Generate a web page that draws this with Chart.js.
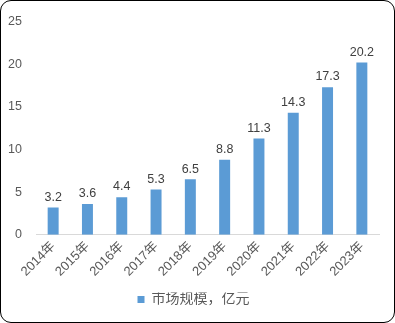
<!DOCTYPE html>
<html lang="zh">
  <head>
    <meta charset="UTF-8" />
    <title>市场规模</title>
    <script src="https://cdn.jsdelivr.net/npm/chart.js"></script>
    <style>
      body {
        margin: 0;
        background: #fff;
      }
      .frame {
        position: relative;
        width: 395px;
        height: 323px;
      }
      .frame::after {
        content: "";
        position: absolute;
        inset: 0;
        border: 1.5px solid #000;
        border-radius: 11px;
        pointer-events: none;
      }
    </style>
  </head>
  <body>
    <div class="frame">
      <canvas id="market-chart" width="395" height="323"></canvas>
    </div>

    <script>
      const years = ["2014年", "2015年", "2016年", "2017年", "2018年", "2019年", "2020年", "2021年", "2022年", "2023年"];
      const marketSize = [3.2, 3.6, 4.4, 5.3, 6.5, 8.8, 11.3, 14.3, 17.3, 20.2];
      const yTicks = [0, 5, 10, 15, 20, 25];

      const fontFamily = "'Liberation Sans', 'Noto Sans CJK SC', sans-serif";

      // value labels above each bar
      const barLabels = {
        id: "barLabels",
        afterDatasetsDraw(chart) {
          const ctx = chart.ctx;
          const meta = chart.getDatasetMeta(0);
          ctx.save();
          ctx.font = "12.5px " + fontFamily;
          ctx.fillStyle = "#404040";
          ctx.textAlign = "center";
          ctx.textBaseline = "bottom";
          meta.data.forEach((bar, i) => {
            ctx.fillText(marketSize[i].toFixed(1), bar.x, bar.y - 4);
          });
          ctx.restore();
        },
      };

      new Chart(document.getElementById("market-chart"), {
        type: "bar",
        data: {
          labels: years,
          datasets: [
            {
              label: "市场规模，亿元",
              data: marketSize,
              backgroundColor: "#5B9BD5",
              barPercentage: 0.32,
              categoryPercentage: 1,
            },
          ],
        },
        options: {
          responsive: false,
          animation: false,
          layout: {
            padding: { top: 15, right: 16, bottom: 6.6, left: 8 },
          },
          scales: {
            x: {
              grid: { display: false, drawTicks: false },
              border: { color: "#d9d9d9", width: 1 },
              ticks: {
                color: "#595959",
                font: { size: 13, family: fontFamily },
                minRotation: 45,
                maxRotation: 45,
                padding: 4,
              },
              afterFit(axis) {
                axis.height = 57.6;
              },
            },
            y: {
              min: 0,
              max: 25,
              afterBuildTicks(axis) {
                axis.ticks = yTicks.map((v) => ({ value: v }));
              },
              grid: { display: false, drawTicks: false },
              border: { display: false },
              ticks: {
                color: "#595959",
                font: { size: 12.5, family: fontFamily },
                padding: 14,
              },
              afterFit(axis) {
                axis.width = 28;
              },
            },
          },
          plugins: {
            legend: {
              position: "bottom",
              labels: {
                boxWidth: 7,
                boxHeight: 7,
                padding: 0,
                color: "#595959",
                font: { size: 14, family: fontFamily },
              },
            },
            tooltip: { enabled: false },
          },
        },
        plugins: [barLabels],
      });
    </script>
  </body>
</html>
